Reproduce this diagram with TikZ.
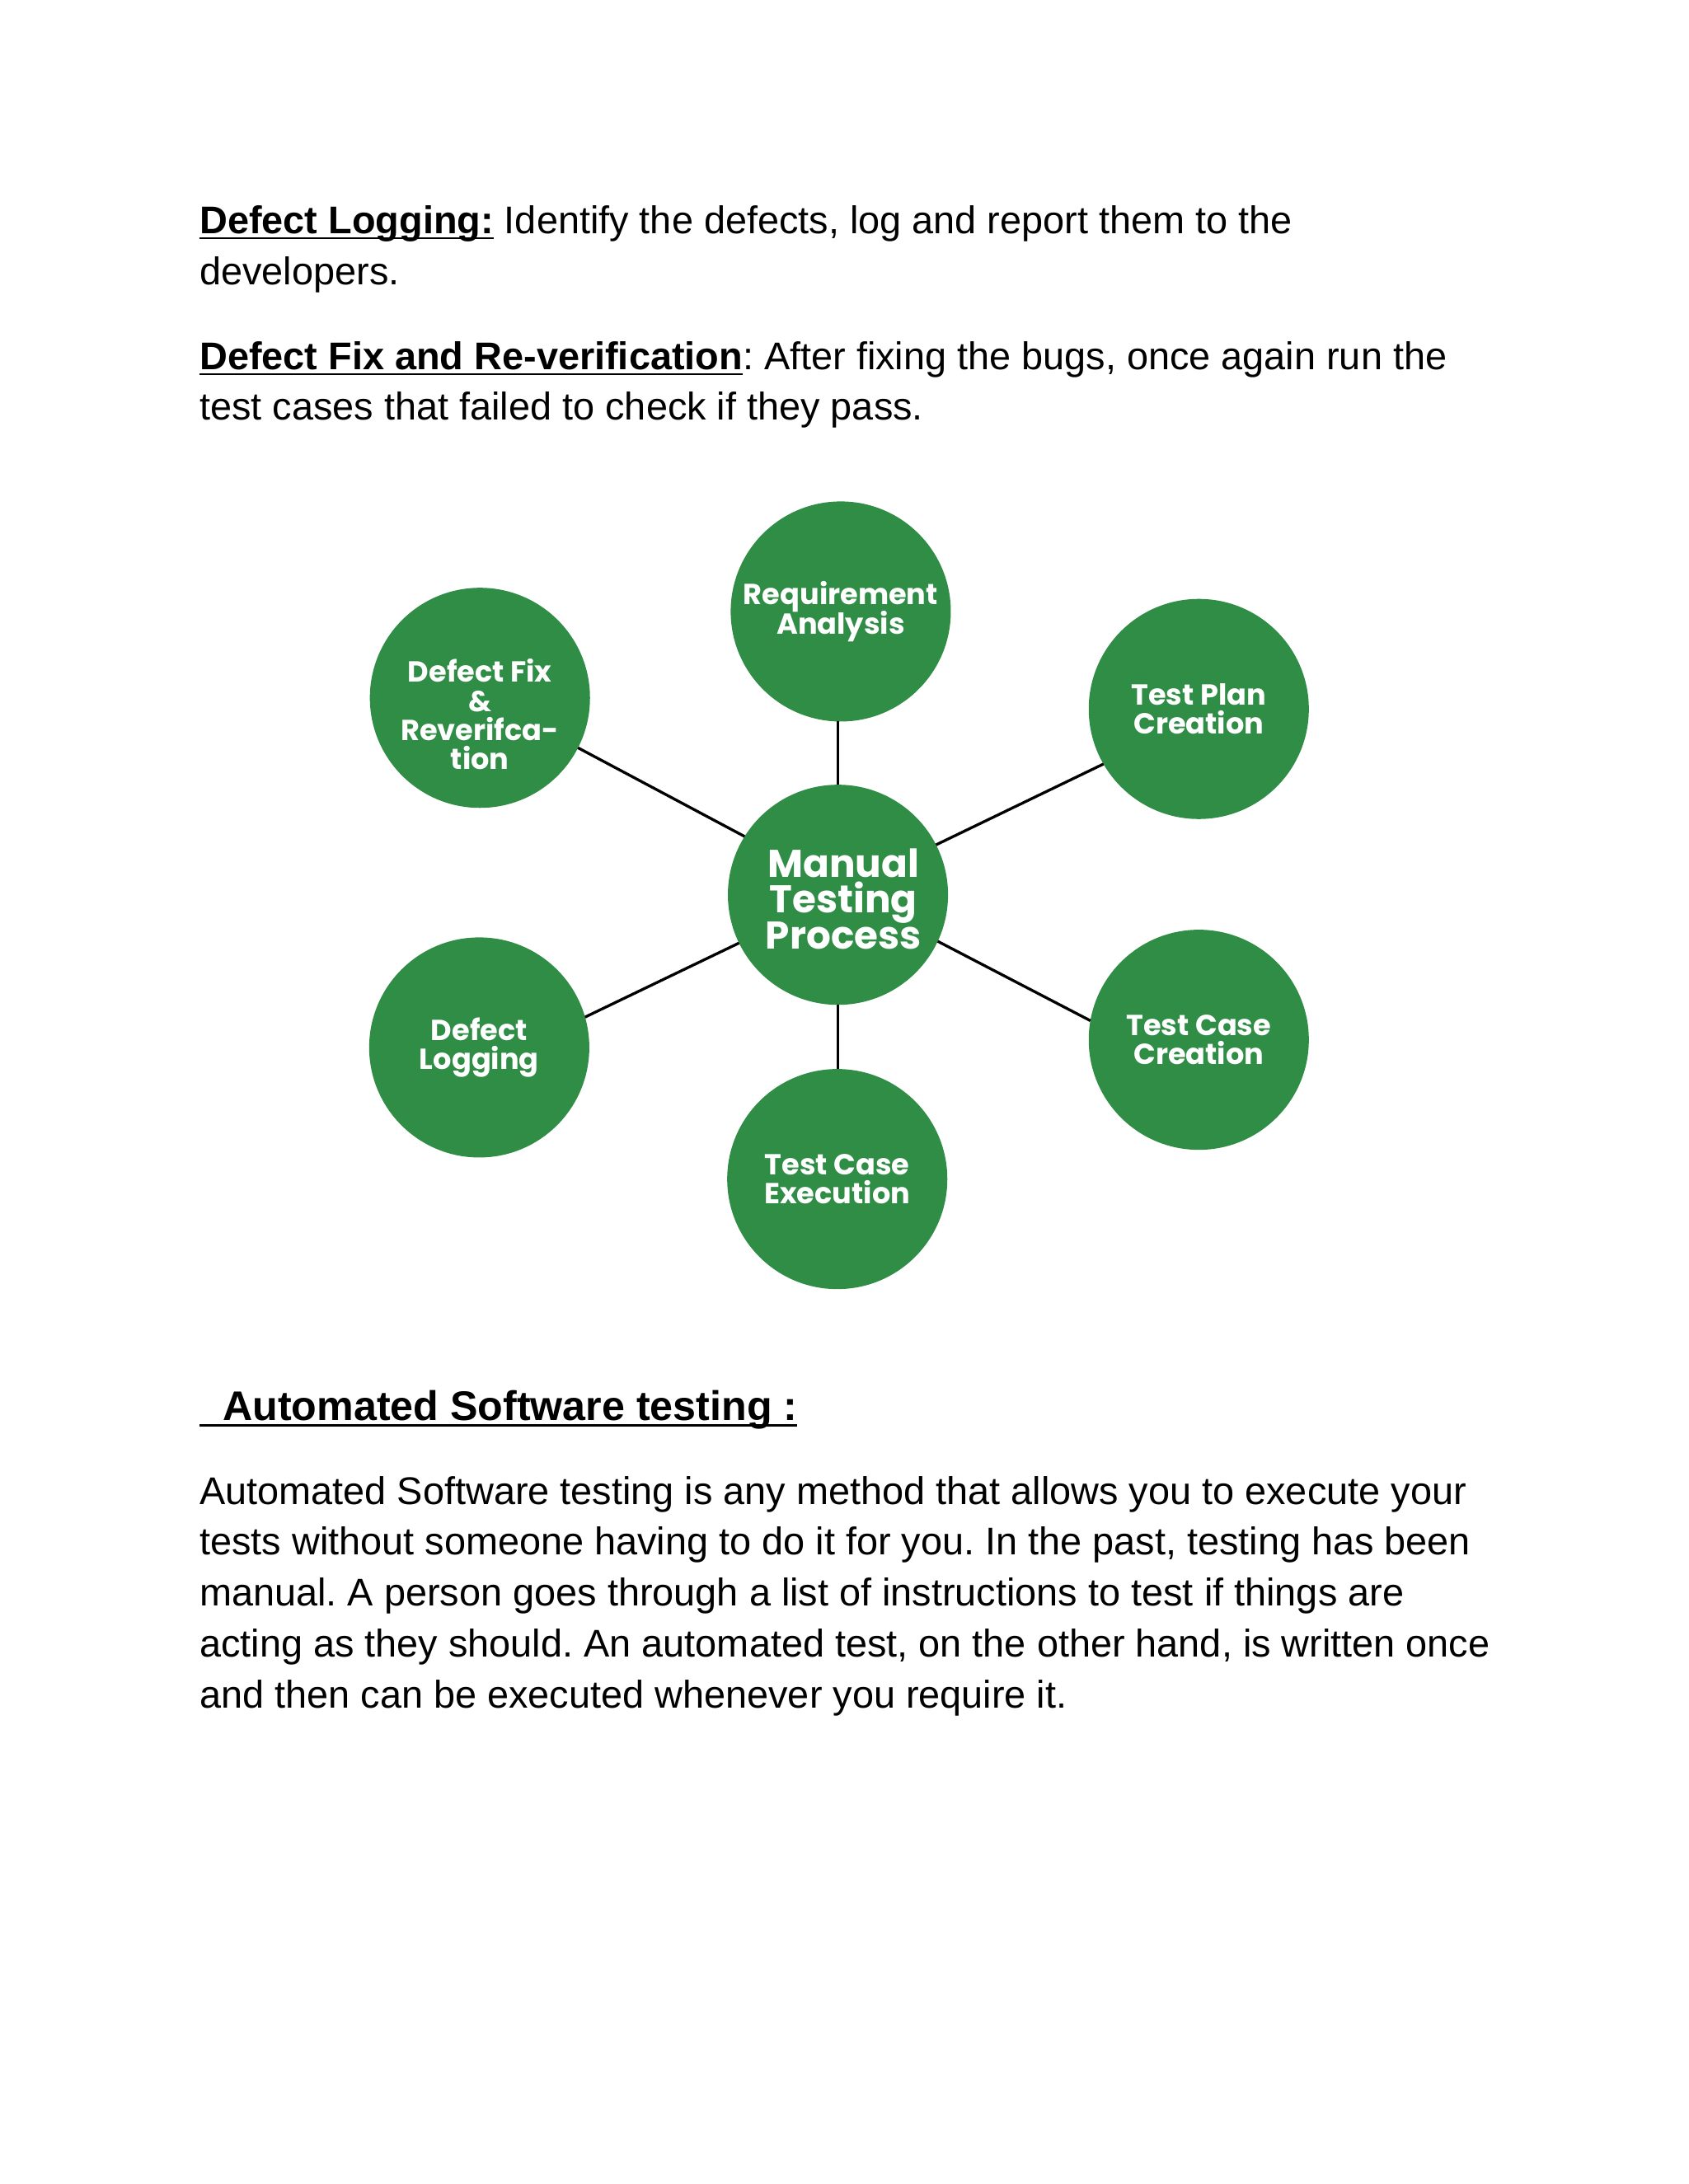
\documentclass[tikz,border=0pt]{standalone}
\usepackage{fontspec}
\setmainfont{Liberation Sans}
\newfontfamily\stagefont{Poppins}
\usetikzlibrary{positioning}
\definecolor{stagegreen}{RGB}{47,141,70}
\newsavebox\ulsave
\newcommand\ultext[1]{\sbox\ulsave{#1}\rlap{\vrule width\wd\ulsave height -1.3pt depth 2.1pt}\usebox\ulsave}
\frenchspacing
\setlength{\lineskiplimit}{-20pt}

\begin{document}
\begin{tikzpicture}[
      x=0.505pt, y=-0.505pt,
      line/.style={anchor=base west, inner sep=0pt, font=\fontsize{14}{18.4}\selectfont},
      stagetext/.style={text=white, align=center, inner sep=0pt,
                        font=\stagefont\bfseries\fontsize{10.5}{10.6}\selectfont},
      stage/.style={circle, fill=stagegreen, minimum size=79.8pt, inner sep=0pt,
                    outer sep=0pt, stagetext},
      hubtext/.style={stagetext, font=\stagefont\bfseries\fontsize{14}{13.1}\selectfont},
      link/.style={line width=1pt, black},
    ]
    \useasboundingbox (0,0) rectangle (1212,1568);
    % text above
    \node[line] (dlog) at (143,167.7) {\ultext{\bfseries Defect Logging:} Identify the defects, log and report them to the};
    \node[line] (dlog2) at (143,204.2) {developers.};
    \node[line] (dfix) at (143,265.3) {\ultext{\bfseries Defect Fix and Re-verification}: After fixing the bugs, once again run the};
    \node[line] (dfix2) at (143,301.4) {test cases that failed to check if they pass.};
    % circles
    \node[stage, label={[hubtext, xshift=2pt, yshift=-1.5pt]center:{Manual\\Testing\\Process}}] (mtp) at (601.5,642.4) {};
    \node[stage] (req) at (603.5,439) {Requirement\\Analysis};
    \node[stage] (tpc) at (860.5,509) {Test Plan\\Creation};
    \node[stage] (tcc) at (860.5,746.5) {Test Case\\Creation};
    \node[stage] (exe) at (601,846.5) {Test Case\\Execution};
    \node[stage] (dl) at (344,752) {Defect\\Logging};
    \node[stage, label={[stagetext, yshift=-6pt]center:{Defect Fix\\\&\\Reverifca-\\tion}}] (df) at (344.5,501) {};
    % links
    \draw[link] (mtp.north) -- (mtp.north |- req.south);
    \draw[link] (mtp.27) -- (tpc.210);
    \draw[link] (mtp.-25) -- (tcc.170);
    \draw[link] (mtp.south) -- (mtp.south |- exe.north);
    \draw[link] (mtp.206) -- (dl.16);
    \draw[link] (mtp.148) -- (df.-27);
    % text below
    \node[line, font=\bfseries\fontsize{15}{18}\selectfont] (auto) at (143,1019.9) {\ultext{\ \ Automated Software testing :}};
    \node[line] (b1) at (143,1080) {Automated Software testing is any method that allows you to execute your};
    \node[line] (b2) at (143,1116.5) {tests without someone having to do it for you. In the past, testing has been};
    \node[line] (b3) at (143,1153) {manual. A person goes through a list of instructions to test if things are};
    \node[line] (b4) at (143,1189.5) {acting as they should. An automated test, on the other hand, is written once};
    \node[line] (b5) at (143,1226) {and then can be executed whenever you require it.};
  \end{tikzpicture}
\end{document}
